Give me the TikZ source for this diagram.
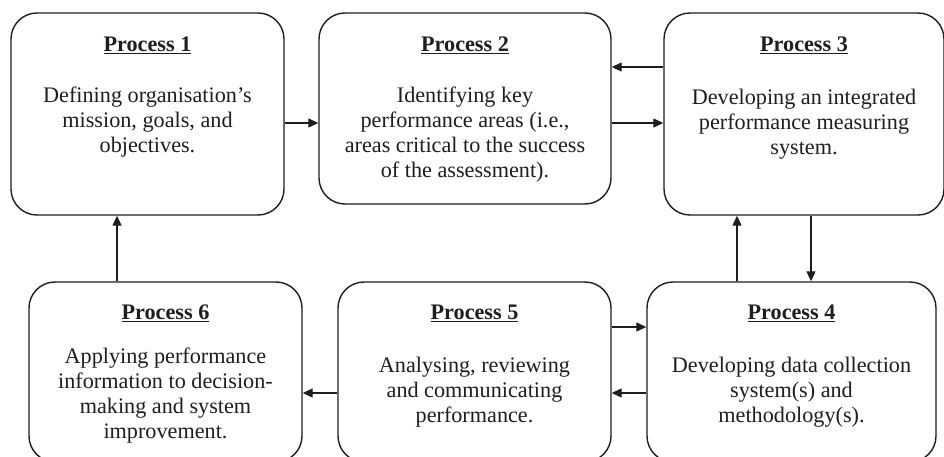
\documentclass[tikz,border=0pt]{standalone}
\usepackage{fontspec}
\setmainfont{Liberation Serif}
\usetikzlibrary{arrows.meta}
\definecolor{ink}{HTML}{1E1E1E}
\tikzset{
  procbox/.style={draw=ink, line width=1.4pt, rounded corners=26pt, inner sep=0pt},
  ttl/.style={font=\fontsize{22.2}{25}\selectfont\bfseries, text=ink, inner sep=0pt},
  bodytxt/.style={font=\fontsize{22.2}{25}\selectfont, text=ink, align=center, inner sep=0pt},
  arr/.style={draw=ink, line width=1.2pt, -{Triangle[length=10pt,width=9pt]}}
}
\begin{document}
\begin{tikzpicture}[x=1pt,y=-1pt]
\useasboundingbox (0,0) rectangle (944,457);
\clip (0,0) rectangle (944,457);
\fill[white] (0,0) rectangle (944,457);
% boxes
\node[procbox, minimum width=273pt, minimum height=202pt] (p1) at (147.5,114) {};
\node[procbox, minimum width=292pt, minimum height=191pt] (p2) at (465,108.5) {};
\node[procbox, minimum width=280pt, minimum height=202pt] (p3) at (804,114) {};
\node[procbox, minimum width=289pt, minimum height=180pt] (p4) at (791.5,372) {};
\node[procbox, minimum width=273pt, minimum height=180pt] (p5) at (474.5,372) {};
\node[procbox, minimum width=273pt, minimum height=180pt] (p6) at (165.5,372) {};
% titles
\node[ttl] (t1) at (147.5,45) {\underline{Process 1}};
\node[ttl] (t2) at (465,45) {\underline{Process 2}};
\node[ttl] (t3) at (804,45) {\underline{Process 3}};
\node[ttl] (t4) at (791.5,313) {\underline{Process 4}};
\node[ttl] (t5) at (474.5,313) {\underline{Process 5}};
\node[ttl] (t6) at (165.5,313) {\underline{Process 6}};
% bodies
\node[bodytxt] (b1) at (147.5,122) {Defining organisation’s\\mission, goals, and\\objectives.};
\node[bodytxt] (b2) at (465,134.5) {Identifying key\\performance areas (i.e.,\\areas critical to the success\\of the assessment).};
\node[bodytxt] (b3) at (804,124) {Developing an integrated\\performance measuring\\system.};
\node[bodytxt] (b4) at (791.5,392) {Developing data collection\\system(s) and\\methodology(s).};
\node[bodytxt] (b5) at (474.5,392) {Analysing, reviewing\\and communicating\\performance.};
\node[bodytxt] (b6) at (165.5,396) {Applying performance\\information to decision-\\making and system\\improvement.};
% helper coordinates
\coordinate (ya) at (0,123);
\coordinate (yb) at (0,67);
\coordinate (yc) at (0,327);
\coordinate (yd) at (0,393);
\coordinate (xa) at (737,0);
\coordinate (xb) at (811,0);
\coordinate (xc) at (117,0);
% connectors
\draw[arr] (p1.east |- ya) -- (p2.west |- ya);
\draw[arr] (p3.west |- yb) -- (p2.east |- yb);
\draw[arr] (p2.east |- ya) -- (p3.west |- ya);
\draw[arr] (p4.north -| xa) -- (p3.south -| xa);
\draw[arr] (p3.south -| xb) -- (p4.north -| xb);
\draw[arr] (p5.east |- yc) -- (p4.west |- yc);
\draw[arr] (p4.west |- yd) -- (p5.east |- yd);
\draw[arr] (p5.west |- yd) -- (p6.east |- yd);
\draw[arr] (p6.north -| xc) -- (p1.south -| xc);
\end{tikzpicture}
\end{document}
